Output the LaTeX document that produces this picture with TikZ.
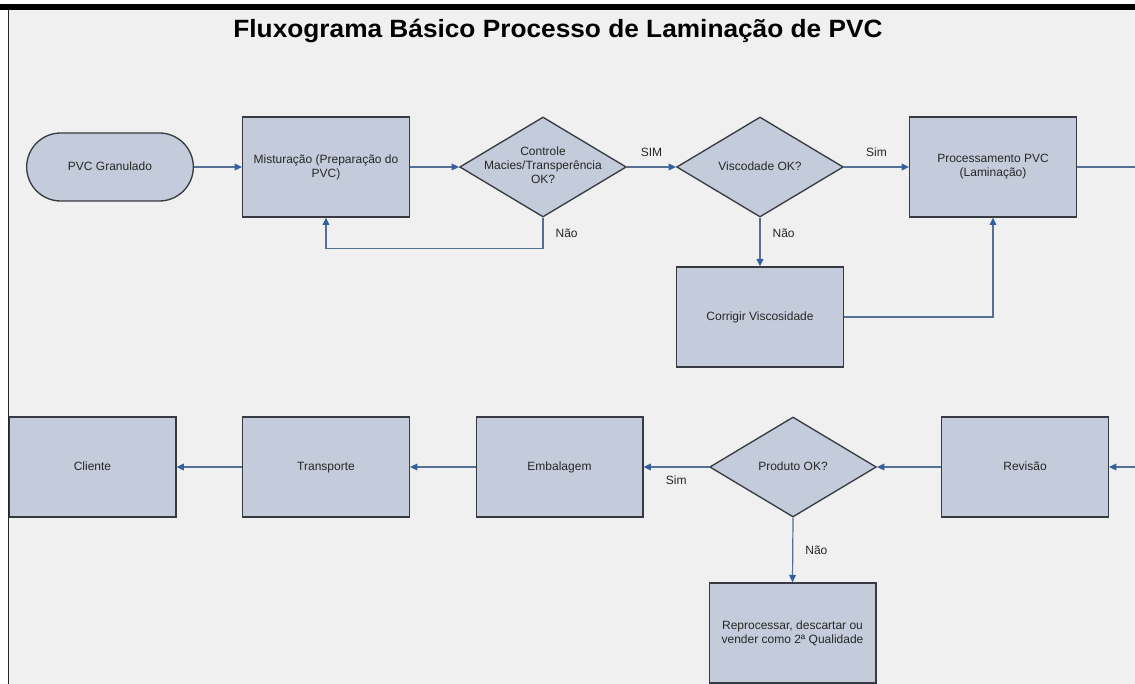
\documentclass[tikz,border=0pt]{standalone}
\usepackage{fontspec}
\setmainfont{Liberation Sans}
\usetikzlibrary{shapes.geometric, arrows.meta}
\definecolor{BoxFill}{RGB}{196, 204, 219}
\definecolor{BoxEdge}{RGB}{55, 58, 64}
\definecolor{FlowBlue}{RGB}{84, 112, 150}
\definecolor{TipBlue}{RGB}{52, 96, 160}
\definecolor{PageGray}{RGB}{240, 240, 240}

\begin{document}
\begin{tikzpicture}[x=0.75pt, y=-0.75pt,
        proc/.style={draw=BoxEdge, fill=BoxFill, line width=1pt, minimum width=125pt, minimum height=75pt, inner sep=2pt, font=\fontsize{9}{10.5}\selectfont, text=black!85, align=center},
        oneline/.style={text height=6.5pt, text depth=1.9pt},
        term/.style={proc, oneline, rounded corners=25.5pt, minimum height=51pt},
        decision/.style={proc, diamond, aspect=1.66},
        arrow/.style={-{Triangle[length=5.5pt, width=5pt, color=TipBlue]}, line width=0.9pt, FlowBlue},
        link/.style={line width=0.9pt, FlowBlue},
        lbl/.style={font=\fontsize{9}{10.5}\selectfont, text=black!85, inner sep=1pt}
    ]
        % Page & frame
        \useasboundingbox (0,0) rectangle (1135,684);
        \fill[PageGray] (0,0) rectangle (1135,684);
        \fill[white] (0,0) rectangle (1135,4);
        \fill[black] (0,4) rectangle (1135,10);
        \fill[white] (0,10) rectangle (7.5,684);
        \draw[black!85, line width=1.3pt] (8.5,10) -- (8.5,684);

        \node[font=\bfseries\fontsize{18.75}{22}\selectfont, xscale=1.05, anchor=base] (title) at (558,38) {Fluxograma Básico Processo de Laminação de PVC};

        % Upper row
        \node[term] (pvc) at (110,167) {PVC Granulado};
        \node[proc] (mix) at (326,167) {Misturação (Preparação do\\PVC)};
        \node[decision] (ctrl) at (543,167) {\makebox[0pt][c]{\begin{tabular}{@{}c@{}}Controle\\Macies/Transperência\\OK?\end{tabular}}};
        \node[decision, oneline] (visc) at (760,167) {Viscodade OK?};
        \node[proc] (lam) at (993,167) {Processamento PVC\\(Laminação)};
        \node[proc, oneline] (fix) at (760,317) {Corrigir Viscosidade};
        \coordinate (outtop) at (1135,167);

        % Lower row
        \coordinate (inbot) at (1135,467);
        \node[proc, oneline] (rev) at (1025,467) {Revisão};
        \node[decision, oneline] (prod) at (793,467) {Produto OK?};
        \node[proc, oneline] (pack) at (559.5,467) {Embalagem};
        \node[proc, oneline] (ship) at (326,467) {Transporte};
        \node[proc, oneline] (client) at (92.5,467) {Cliente};
        \node[proc] (redo) at (792.5,633) {Reprocessar, descartar ou\\vender como 2ª Qualidade};

        % Connections
        \draw[arrow] (pvc.east) -- (mix.west);
        \draw[arrow] (mix.east) -- (ctrl.west);
        \draw[arrow] (ctrl.east) -- node[lbl, above=6pt] {SIM} (visc.west);
        \draw[arrow] (ctrl.south) -- node[lbl, right=8pt] {Não} ++(0,31) -| (mix.south);
        \draw[arrow] (visc.east) -- node[lbl, above=6pt] {Sim} (lam.west);
        \draw[arrow] (visc.south) -- node[lbl, right=8pt, pos=0.32] {Não} (fix.north);
        \draw[arrow] (fix.east) -| (lam.south);
        \draw[link] (lam.east) -- (outtop);

        \draw[arrow] (inbot) -- (rev.east);
        \draw[arrow] (rev.west) -- (prod.east);
        \draw[arrow] (prod.west) -- node[lbl, below=5pt] {Sim} (pack.east);
        \draw[arrow] (pack.west) -- (ship.east);
        \draw[arrow] (ship.west) -- (client.east);
        \draw[arrow] (prod.south) -- node[lbl, right=8pt] {Não} (redo.north);
    \end{tikzpicture}
\end{document}
